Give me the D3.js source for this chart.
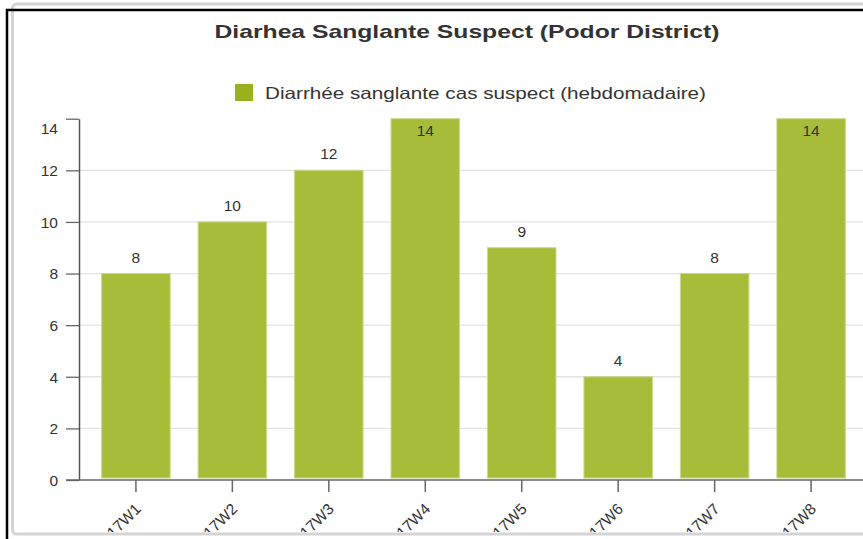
<!DOCTYPE html>
<html><head><meta charset="utf-8">
<script src="https://cdn.jsdelivr.net/npm/d3@7"></script>
<style>
html,body{margin:0;padding:0;background:#fff;}
svg{display:block;font-family:"Liberation Sans",Arial,sans-serif;}
</style></head>
<body><svg id="c" width="863" height="539"></svg>
<script>
const titleText = "Diarhea Sanglante Suspect (Podor District)";
const seriesName = "Diarrhée sanglante cas suspect (hebdomadaire)";
const categories = ["2017W1","2017W2","2017W3","2017W4","2017W5","2017W6","2017W7","2017W8"];
const values = [8,10,12,14,9,4,8,14];
const yTicks = [0,2,4,6,8,10,12,14];

const svg = d3.select("#c");
const W = 863, H = 539;

// panel frame
svg.append("rect").attr("x",12.5).attr("y",4).attr("width",900).attr("height",530)
  .attr("rx",4).attr("fill","#fff").attr("stroke","#d4d4d4").attr("stroke-width",3);

const x0 = 79, yBottom = 480, yTop = 118.7;
const x = d3.scaleBand().domain(categories).range([x0, 868]).paddingInner(0.29).paddingOuter(0.235);
const y = d3.scaleLinear().domain([0,14]).range([yBottom, yTop]);

const chart = svg.append("g");
svg.append("clipPath").attr("id","clp").append("rect").attr("x",14).attr("y",12).attr("width",W).attr("height",520);
chart.attr("clip-path","url(#clp)");

// gridlines
chart.append("g").selectAll("line").data(yTicks.filter(t=>t>0 && t<14)).join("line")
  .attr("x1",x0).attr("x2",W).attr("y1",d=>y(d)).attr("y2",d=>y(d))
  .attr("stroke","#e3e3e3").attr("stroke-width",1.3);

// bars
chart.append("g").selectAll("rect").data(values).join("rect")
  .attr("x",(d,i)=>x(categories[i]))
  .attr("width",x.bandwidth())
  .attr("y",d=>y(d))
  .attr("height",d=>y(0)-2-y(d))
  .attr("fill","#a7bd39")
  .attr("stroke","#c9d88a").attr("stroke-width",1);

// value labels
chart.append("g").selectAll("text").data(values).join("text")
  .attr("x",(d,i)=>x(categories[i])+x.bandwidth()/2)
  .attr("y",d=> (y(d)-12 < yTop+6) ? y(d)+17 : y(d)-11)
  .attr("text-anchor","middle").attr("font-size",15.5).attr("fill","#333")
  .text(d=>d);

// y axis
const yAxis = d3.axisLeft(y).tickValues(yTicks).tickSize(13).tickPadding(8).tickSizeOuter(0);
const gy = chart.append("g").attr("transform",`translate(${x0},0)`).call(yAxis);
gy.select(".domain").attr("stroke","#555").attr("stroke-width",1.5);
gy.selectAll(".tick line").attr("stroke","#666").attr("stroke-width",1.3);
gy.selectAll(".tick text").attr("font-size",15.5).attr("fill","#333")
  .attr("font-family","'Liberation Sans',Arial,sans-serif")
  .attr("dy",d=> d===14 ? "0.95em" : "0.34em");

// x axis
const xAxis = d3.axisBottom(x).tickSize(12).tickSizeOuter(0).tickPadding(4);
const gx = chart.append("g").attr("transform",`translate(0,${yBottom})`).call(xAxis);
gx.select(".domain").remove();
gx.append("line").attr("x1",66).attr("x2",W).attr("y1",0).attr("y2",0).attr("stroke","#666").attr("stroke-width",1.5);
gx.selectAll(".tick line").attr("stroke","#666").attr("stroke-width",1.5);
gx.selectAll(".tick text").attr("font-size",15.5).attr("fill","#333")
  .attr("font-family","'Liberation Sans',Arial,sans-serif")
  .attr("text-anchor","end").attr("x",0).attr("y",0).attr("dy","0")
  .attr("transform","translate(6,30) rotate(-45)");

// title
svg.append("text").attr("x",467).attr("y",38).attr("text-anchor","middle")
  .attr("font-size",19).attr("font-weight","bold").attr("fill","#333")
  .attr("textLength",505).attr("lengthAdjust","spacingAndGlyphs").text(titleText);

// legend
svg.append("rect").attr("x",235).attr("y",84).attr("width",18).attr("height",17).attr("fill","#9ab01c");
svg.append("text").attr("x",265).attr("y",99).attr("font-size",16.5).attr("fill","#333")
  .attr("textLength",441).attr("lengthAdjust","spacingAndGlyphs").text(seriesName);

// outer black frame
svg.append("line").attr("x1",6).attr("x2",W).attr("y1",10).attr("y2",10).attr("stroke","#000").attr("stroke-width",2.5);
svg.append("line").attr("x1",7).attr("x2",7).attr("y1",9).attr("y2",H).attr("stroke","#000").attr("stroke-width",2.5);
</script></body></html>
